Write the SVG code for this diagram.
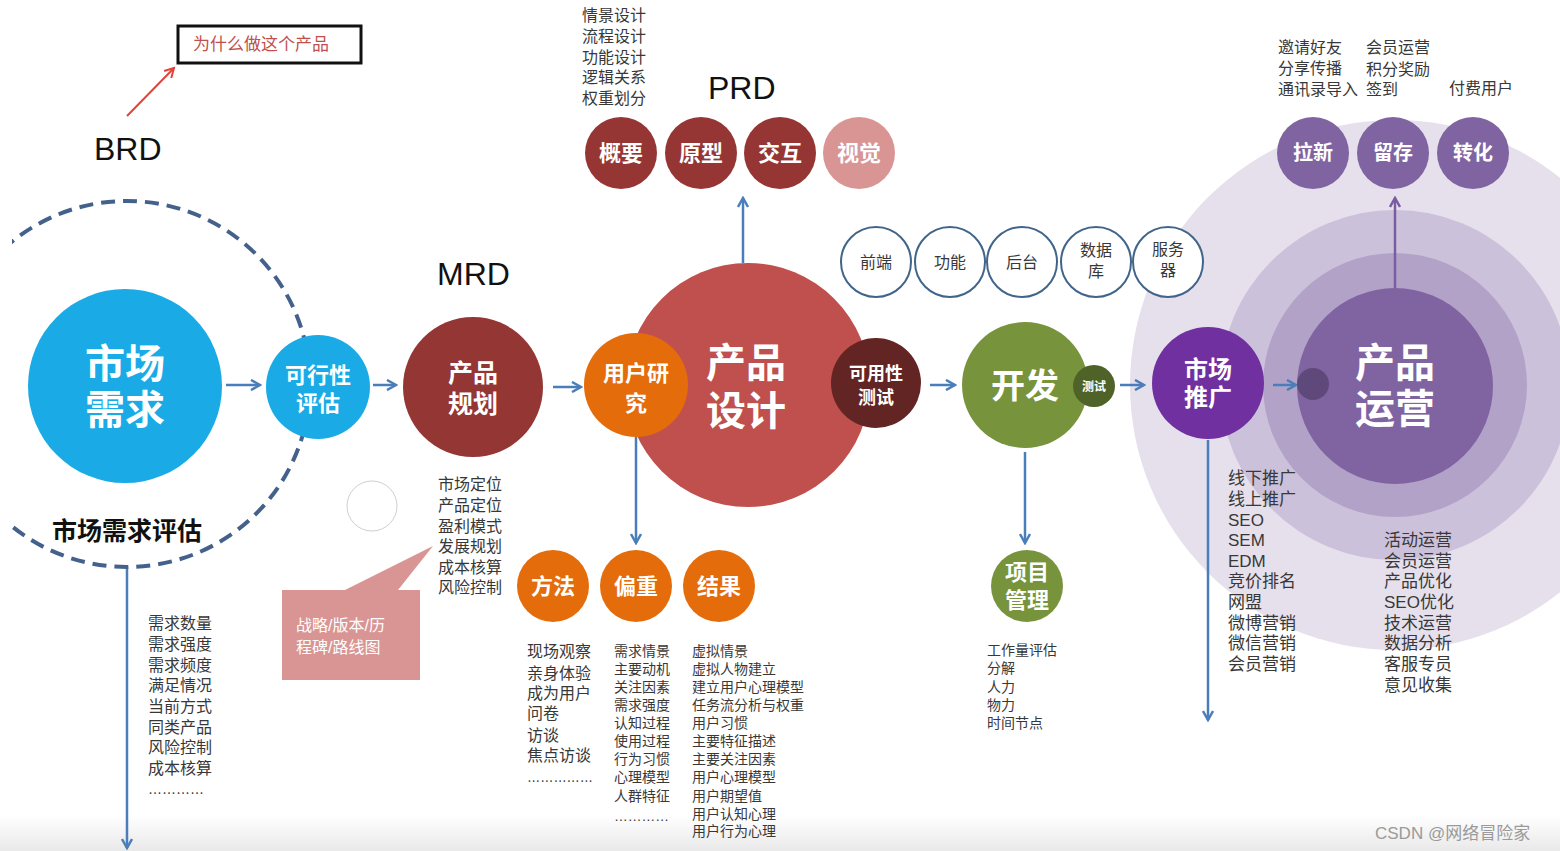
<svg xmlns="http://www.w3.org/2000/svg" width="1560" height="851" viewBox="0 0 1560 851">
<defs>
<style>
.t{font-family:"Liberation Sans","Noto Sans CJK SC",sans-serif;}
.w{fill:#fff;font-weight:bold;text-anchor:middle;font-family:"Liberation Sans","Noto Sans CJK SC",sans-serif;}
.l16{font-size:16px;fill:#383838;font-family:"Liberation Sans","Noto Sans CJK SC",sans-serif;}
.l14{font-size:14px;fill:#383838;font-family:"Liberation Sans","Noto Sans CJK SC",sans-serif;}
.l17{font-size:17px;fill:#383838;font-family:"Liberation Sans","Noto Sans CJK SC",sans-serif;}
.big{font-size:32px;fill:#111;font-family:"Liberation Sans","Noto Sans",sans-serif;}
.arr{stroke:#4A7EBB;stroke-width:2.5;fill:none;marker-end:url(#ah);}
.arrp{stroke:#7A5CA0;stroke-width:2.5;fill:none;marker-end:url(#ahp);}
.ol{fill:#fff;stroke:#41658A;stroke-width:2;}
</style>
<marker id="ah" markerWidth="12" markerHeight="12" refX="10" refY="6" orient="auto" markerUnits="userSpaceOnUse">
<path d="M1,1 L10,6 L1,11" fill="none" stroke="#4A7EBB" stroke-width="2.5"/>
</marker>
<marker id="ahp" markerWidth="12" markerHeight="12" refX="10" refY="6" orient="auto" markerUnits="userSpaceOnUse">
<path d="M1,1 L10,6 L1,11" fill="none" stroke="#7A5CA0" stroke-width="2.5"/>
</marker>
<marker id="ahr" markerWidth="12" markerHeight="12" refX="10" refY="6" orient="auto" markerUnits="userSpaceOnUse">
<path d="M1,1 L10,6 L1,11" fill="none" stroke="#E0443A" stroke-width="2"/>
</marker>
<clipPath id="cl"><rect x="12" y="0" width="1548" height="851"/></clipPath>
<linearGradient id="bg" x1="0" y1="0" x2="0" y2="1">
<stop offset="0" stop-color="#fff"/><stop offset="1" stop-color="#e9e9e9"/>
</linearGradient>
</defs>
<rect width="1560" height="851" fill="#fff"/>
<rect x="0" y="815" width="1560" height="36" fill="url(#bg)"/>

<g id="ops-rings">
<circle cx="1395" cy="385" r="265" fill="#E6E0EC"/>
<circle cx="1395" cy="385" r="175" fill="#CCC1DA"/>
<circle cx="1395" cy="385" r="132" fill="#B3A2C7"/>
</g>

<g id="connectors">
<path class="arr" d="M226,385 H260"/>
<path class="arr" d="M373,385 H396"/>
<path class="arr" d="M553,387 H581"/>
<path class="arr" d="M743,263 V198"/>
<path class="arr" d="M636,437 V543"/>
<path class="arr" d="M930,385 H955"/>
<path class="arr" d="M1025,452 V543"/>
<path class="arr" d="M1120,385 H1144"/>
<path class="arr" d="M1273,385 H1296"/>
<path class="arrp" d="M1395,290 V198"/>
<path class="arr" d="M1208,440 V720"/>
<path class="arr" d="M127,567 V848"/>
<path d="M127,116 L174,68" stroke="#E0443A" stroke-width="2" fill="none" marker-end="url(#ahr)"/>
</g>

<g id="brd">
<text class="big" x="94" y="160">BRD</text>
<rect x="178" y="26" width="183" height="37" fill="#fff" stroke="#111" stroke-width="3"/>
<text class="t" x="193" y="50" font-size="17" fill="#C0504D">为什么做这个产品</text>
</g>

<g id="market-eval">
<circle cx="127" cy="384" r="183" fill="none" stroke="#44618B" stroke-width="4" stroke-dasharray="14 8" clip-path="url(#cl)"/>
<text class="t" x="52" y="540" font-size="25" font-weight="bold" fill="#111">市场需求评估</text>
</g>

<g id="market-demand">
<circle cx="125" cy="386" r="97" fill="#1AABE6"/>
<text class="w" font-size="40"><tspan x="125" y="378">市场</tspan><tspan x="125" y="424">需求</tspan></text>
</g>

<g id="feasibility">
<circle cx="318" cy="387" r="52" fill="#1AABE6"/>
<text class="w" font-size="22"><tspan x="318" y="383">可行性</tspan><tspan x="318" y="411">评估</tspan></text>
</g>

<g id="needs-list">
<text class="l16"><tspan x="148" y="629">需求数量</tspan><tspan x="148" y="650">需求强度</tspan><tspan x="148" y="671">需求频度</tspan><tspan x="148" y="691">满足情况</tspan><tspan x="148" y="712">当前方式</tspan><tspan x="148" y="733">同类产品</tspan><tspan x="148" y="753">风险控制</tspan><tspan x="148" y="774">成本核算</tspan><tspan x="148" y="794" textLength="56" lengthAdjust="spacingAndGlyphs">…………</tspan></text>
</g>

<g id="artifact">
<circle cx="372" cy="506" r="25" fill="#fff" stroke="#cfcfcf" stroke-width="1"/>
</g>

<g id="mrd">
<text class="big" x="437" y="285">MRD</text>
<circle cx="473" cy="387" r="70" fill="#943634"/>
<text class="w" font-size="25"><tspan x="473" y="382">产品</tspan><tspan x="473" y="413">规划</tspan></text>
<text class="l16"><tspan x="438" y="490">市场定位</tspan><tspan x="438" y="511">产品定位</tspan><tspan x="438" y="532">盈利模式</tspan><tspan x="438" y="552">发展规划</tspan><tspan x="438" y="573">成本核算</tspan><tspan x="438" y="593">风险控制</tspan></text>
</g>

<g id="callout">
<path d="M282,590 H345 L433,546 L398,590 H420 V680 H282 Z" fill="#D99594"/>
<text class="t" font-size="16" fill="#fff"><tspan x="296" y="631">战略/版本/历</tspan><tspan x="296" y="653">程碑/路线图</tspan></text>
</g>

<g id="prd">
<text class="big" x="708" y="99">PRD</text>
<text class="l16"><tspan x="582" y="21">情景设计</tspan><tspan x="582" y="42">流程设计</tspan><tspan x="582" y="63">功能设计</tspan><tspan x="582" y="83">逻辑关系</tspan><tspan x="582" y="104">权重划分</tspan></text>
</g>
<g id="prd-overview"><circle cx="621" cy="153" r="36" fill="#963634"/><text class="w" x="621" y="161" font-size="22">概要</text></g>
<g id="prd-prototype"><circle cx="701" cy="153" r="36" fill="#963634"/><text class="w" x="701" y="161" font-size="22">原型</text></g>
<g id="prd-interaction"><circle cx="780" cy="153" r="36" fill="#963634"/><text class="w" x="780" y="161" font-size="22">交互</text></g>
<g id="prd-visual"><circle cx="859" cy="153" r="36" fill="#D99594"/><text class="w" x="859" y="161" font-size="22">视觉</text></g>

<g id="product-design">
<circle cx="748" cy="385" r="122" fill="#C0504D"/>
<text class="w" font-size="40"><tspan x="746" y="377">产品</tspan><tspan x="746" y="425">设计</tspan></text>
</g>
<g id="user-research">
<circle cx="636" cy="385" r="52" fill="#E46C0A"/>
<text class="w" font-size="22"><tspan x="636" y="381">用户研</tspan><tspan x="636" y="411">究</tspan></text>
</g>
<g id="usability">
<circle cx="876" cy="383" r="45" fill="#632523"/>
<text class="w" font-size="18"><tspan x="876" y="380">可用性</tspan><tspan x="876" y="404">测试</tspan></text>
</g>

<g id="method"><circle cx="553" cy="586" r="36" fill="#E46C0A"/><text class="w" x="553" y="594" font-size="22">方法</text></g>
<g id="focus"><circle cx="636" cy="586" r="36" fill="#E46C0A"/><text class="w" x="636" y="594" font-size="22">偏重</text></g>
<g id="result"><circle cx="719" cy="586" r="36" fill="#E46C0A"/><text class="w" x="719" y="594" font-size="22">结果</text></g>

<g id="method-list">
<text class="l16"><tspan x="527" y="657">现场观察</tspan><tspan x="527" y="679">亲身体验</tspan><tspan x="527" y="699">成为用户</tspan><tspan x="527" y="719">问卷</tspan><tspan x="527" y="741">访谈</tspan><tspan x="527" y="761">焦点访谈</tspan><tspan x="527" y="782" textLength="66" lengthAdjust="spacingAndGlyphs">……………</tspan></text>
</g>
<g id="focus-list">
<text class="l14"><tspan x="614" y="656">需求情景</tspan><tspan x="614" y="674">主要动机</tspan><tspan x="614" y="692">关注因素</tspan><tspan x="614" y="710">需求强度</tspan><tspan x="614" y="728">认知过程</tspan><tspan x="614" y="746">使用过程</tspan><tspan x="614" y="764">行为习惯</tspan><tspan x="614" y="782">心理模型</tspan><tspan x="614" y="801">人群特征</tspan><tspan x="614" y="821" textLength="55" lengthAdjust="spacingAndGlyphs">…………</tspan></text>
</g>
<g id="result-list">
<text class="l14"><tspan x="692" y="656">虚拟情景</tspan><tspan x="692" y="674">虚拟人物建立</tspan><tspan x="692" y="692">建立用户心理模型</tspan><tspan x="692" y="710">任务流分析与权重</tspan><tspan x="692" y="728">用户习惯</tspan><tspan x="692" y="746">主要特征描述</tspan><tspan x="692" y="764">主要关注因素</tspan><tspan x="692" y="782">用户心理模型</tspan><tspan x="692" y="801">用户期望值</tspan><tspan x="692" y="819">用户认知心理</tspan><tspan x="692" y="836">用户行为心理</tspan></text>
</g>

<g id="frontend"><circle class="ol" cx="876" cy="262" r="35"/><text class="l16" x="876" y="268" text-anchor="middle">前端</text></g>
<g id="function"><circle class="ol" cx="950" cy="262" r="35"/><text class="l16" x="950" y="268" text-anchor="middle">功能</text></g>
<g id="backend"><circle class="ol" cx="1022" cy="262" r="35"/><text class="l16" x="1022" y="268" text-anchor="middle">后台</text></g>
<g id="database"><circle class="ol" cx="1096" cy="262" r="35"/><text class="l16" text-anchor="middle"><tspan x="1096" y="256">数据</tspan><tspan x="1096" y="277">库</tspan></text></g>
<g id="server"><circle class="ol" cx="1168" cy="262" r="35"/><text class="l16" text-anchor="middle"><tspan x="1168" y="255">服务</tspan><tspan x="1168" y="276">器</tspan></text></g>

<g id="develop">
<circle cx="1025" cy="385" r="63" fill="#77933C"/>
<text class="w" x="1025" y="398" font-size="34">开发</text>
</g>
<g id="test">
<circle cx="1094" cy="386" r="21" fill="#4F6228"/>
<text class="w" x="1094" y="391" font-size="12">测试</text>
</g>
<g id="project-mgmt">
<circle cx="1027" cy="586" r="36" fill="#77933C"/>
<text class="w" font-size="22"><tspan x="1027" y="580">项目</tspan><tspan x="1027" y="608">管理</tspan></text>
<text class="l14"><tspan x="987" y="655">工作量评估</tspan><tspan x="987" y="673">分解</tspan><tspan x="987" y="692">人力</tspan><tspan x="987" y="710">物力</tspan><tspan x="987" y="728">时间节点</tspan></text>
</g>

<g id="promotion">
<circle cx="1208" cy="383" r="56" fill="#7030A0"/>
<text class="w" font-size="24"><tspan x="1208" y="378">市场</tspan><tspan x="1208" y="406">推广</tspan></text>
</g>
<g id="promotion-list">
<text class="l17"><tspan x="1228" y="484">线下推广</tspan><tspan x="1228" y="505">线上推广</tspan><tspan x="1228" y="526">SEO</tspan><tspan x="1228" y="546">SEM</tspan><tspan x="1228" y="567">EDM</tspan><tspan x="1228" y="587">竞价排名</tspan><tspan x="1228" y="608">网盟</tspan><tspan x="1228" y="629">微博营销</tspan><tspan x="1228" y="649">微信营销</tspan><tspan x="1228" y="670">会员营销</tspan></text>
</g>

<g id="operation">
<circle cx="1395" cy="386" r="98" fill="#8064A2"/>
<circle cx="1313" cy="384" r="16" fill="#5F497A"/>
<text class="w" font-size="40"><tspan x="1395" y="377">产品</tspan><tspan x="1395" y="423">运营</tspan></text>
</g>
<g id="operation-list">
<text class="l17"><tspan x="1384" y="546">活动运营</tspan><tspan x="1384" y="567">会员运营</tspan><tspan x="1384" y="587">产品优化</tspan><tspan x="1384" y="608">SEO优化</tspan><tspan x="1384" y="629">技术运营</tspan><tspan x="1384" y="649">数据分析</tspan><tspan x="1384" y="670">客服专员</tspan><tspan x="1384" y="691">意见收集</tspan></text>
</g>
<g id="acquire"><circle cx="1313" cy="153" r="36" fill="#8064A2"/><text class="w" x="1313" y="160" font-size="20">拉新</text></g>
<g id="retain"><circle cx="1393" cy="153" r="36" fill="#8064A2"/><text class="w" x="1393" y="160" font-size="20">留存</text></g>
<g id="convert"><circle cx="1473" cy="153" r="36" fill="#8064A2"/><text class="w" x="1473" y="160" font-size="20">转化</text></g>
<g id="ops-top-list">
<text class="l16"><tspan x="1278" y="53">邀请好友</tspan><tspan x="1278" y="74">分享传播</tspan><tspan x="1278" y="95">通讯录导入</tspan></text>
<text class="l16"><tspan x="1366" y="53">会员运营</tspan><tspan x="1366" y="75">积分奖励</tspan><tspan x="1366" y="95">签到</tspan></text>
<text class="l16" x="1449" y="94">付费用户</text>
</g>

<text class="t" x="1375" y="839" font-size="17" fill="#9a9a9a">CSDN @网络冒险家</text>
</svg>
